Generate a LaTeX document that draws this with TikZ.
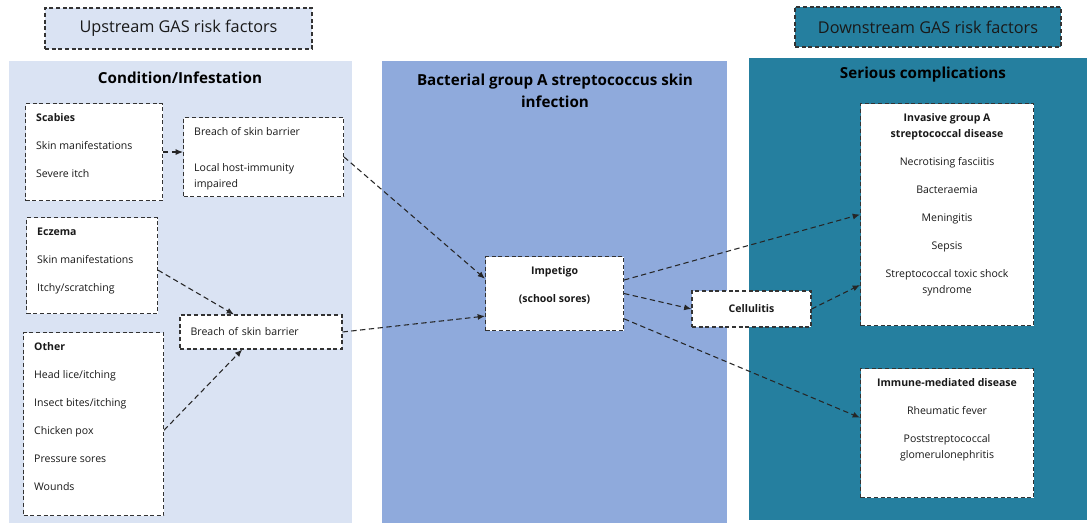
\documentclass[tikz,border=0pt]{standalone}
\usepackage{fontspec}
\setmainfont{Open Sans}
\usetikzlibrary{positioning, arrows.meta}
\definecolor{upblue}{HTML}{DAE3F3}
\definecolor{midblue}{HTML}{8FAADC}
\definecolor{downteal}{HTML}{257F9F}
% top aligned text inside a box: width, height, lines
\newcommand{\boxlines}[3]{\parbox[t][#2][t]{#1}{\vspace*{5.3pt}\strut#3}}
\begin{document}
\begin{tikzpicture}[x=0.75pt, y=-0.75pt,
    box/.style={draw=black!80, dash pattern=on 3pt off 2pt, line width=0.8pt, fill=white, text=black!90, font=\fontsize{7.9}{12}\selectfont},
    listbox/.style={box, anchor=north west, inner xsep=8pt, inner ysep=0pt},
    header/.style={draw=black!80, dash pattern=on 3pt off 2pt, line width=0.8pt, text=black!90, font=\fontsize{12.2}{14}\selectfont},
    heading/.style={align=center, text=black, font=\fontsize{11.4}{16.5}\selectfont\bfseries},
    flow/.style={-{Latex[length=5.5pt,width=4.5pt]}, draw=black!85, dash pattern=on 4pt off 2.6pt, line width=0.8pt}]
    \useasboundingbox (0,0) rectangle (1087,523);
    % Panels
    \fill[upblue] (9,61) rectangle (352,523);
    \fill[midblue] (382,61) rectangle (727,523);
    \fill[downteal] (749,58) rectangle (1087,520);
    % Headers
    \node[header, fill=upblue, minimum width=200.25pt, minimum height=30.75pt] (upstream) at (178.5,28.5) {Upstream GAS risk factors};
    \node[header, fill=downteal, minimum width=199.5pt, minimum height=30pt] (downstream) at (928,27) {Downstream GAS risk factors};
    \node[heading] (uptitle) at (180,78) {Condition/Infestation};
    \node[heading] (midtitle) at (555,91) {Bacterial group A streptococcus skin\\infection};
    \node[heading] (downtitle) at (923,75) {Serious complications};
    % Upstream boxes
    \node[listbox] (scabies) at (25,103) {\boxlines{86.75pt}{72.75pt}{\textbf{Scabies}\\[9pt] Skin manifestations\\[9pt] Severe itch}};
    \node[listbox] (breach1) at (183,117) {\boxlines{104pt}{59.25pt}{Breach of skin barrier\\[15pt] Local host-immunity\\ impaired}};
    \node[listbox] (eczema) at (26,217) {\boxlines{82.25pt}{72pt}{\textbf{Eczema}\\[9pt] Skin manifestations\\[9pt] Itchy/scratching}};
    \node[box, inner xsep=8pt, minimum width=121.5pt, minimum height=25.5pt, text width=105.5pt, align=left] (breach2) at (261,332) {Breach of skin barrier};
    \node[listbox] (other) at (23,332) {\boxlines{89pt}{137.25pt}{\textbf{Other}\\[9pt] Head lice/itching\\[9pt] Insect bites/itching\\[9pt] Chicken pox\\[9pt] Pressure sores\\[9pt] Wounds}};
    % Infection
    \node[listbox] (impetigo) at (485,256) {\boxlines{87.5pt}{55.5pt}{\centering\bfseries Impetigo\\[9pt] (school sores)}};
    \node[box, minimum width=89.25pt, minimum height=27pt, font=\fontsize{7.9}{12}\selectfont\bfseries] (cellulitis) at (751.5,309) {Cellulitis};
    % Complications
    \node[listbox] (invasive) at (860,103) {\boxlines{113.75pt}{166.5pt}{\centering\textbf{Invasive group A}\\ \textbf{streptococcal disease}\\[9pt] Necrotising fasciitis\\[9pt] Bacteraemia\\[9pt] Meningitis\\[9pt] Sepsis\\[9pt] Streptococcal toxic shock\\ syndrome}};
    \node[listbox] (immune) at (860,368) {\boxlines{113.75pt}{96.75pt}{\centering\textbf{Immune-mediated disease}\\[9pt] Rheumatic fever\\[9pt] Poststreptococcal\\ glomerulonephritis}};
    % Arrows
    \draw[flow] (scabies.east) -- (breach1.west |- scabies.east);
    \draw[flow] (breach1.east) -- (impetigo.168);
    \draw[flow] (eczema.356) -- (breach2.147);
    \draw[flow] (other.355) -- (breach2.223);
    \draw[flow] (breach2.east) -- (impetigo.198);
    \draw[flow] (impetigo.11) -- (invasive.west);
    \draw[flow] (impetigo.east) -- (cellulitis.west);
    \draw[flow] (cellulitis.east) -- (invasive.219);
    \draw[flow] (impetigo.340) -- (immune.170);
\end{tikzpicture}
\end{document}
